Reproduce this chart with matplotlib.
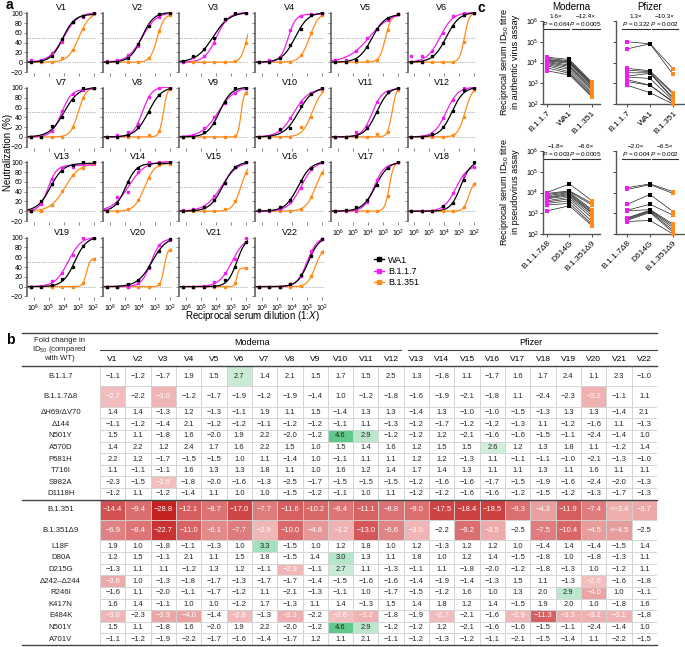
import numpy as np
import matplotlib
matplotlib.use("Agg")
import matplotlib.pyplot as plt
from matplotlib.patches import Rectangle
from matplotlib.colors import LinearSegmentedColormap
from matplotlib.lines import Line2D
from matplotlib.ticker import FixedLocator, NullLocator

plt.rcParams['font.family'] = ['Liberation Sans', 'DejaVu Sans']
plt.rcParams['mathtext.fontset'] = 'custom'
plt.rcParams['mathtext.rm'] = 'Liberation Sans'
plt.rcParams['mathtext.it'] = 'Liberation Sans:italic'
plt.rcParams['mathtext.bf'] = 'Liberation Sans:bold'
plt.rcParams['axes.linewidth'] = 0.8

W, H = 685, 647

C_WA1 = '#000000'
C_B117 = '#f01ef0'
C_B1351 = '#ff8c1a'

# ---------------- panel a: neutralization curves ----------------
DILUTIONS = [1562500, 312500, 62500, 12500, 2500, 500, 100]
VACCINEES = [f'V{i}' for i in range(1, 23)]

WA1_NEUT = [
    [0, 2, 12, 47, 82, 95, 100], [0, 0, 8, 38, 75, 98, 100], [2, 12, 28, 50, 88, 100, 100],
    [0, 0, 8, 36, 68, 96, 100], [0, 0, 5, 32, 67, 90, 98], [0, 1, 12, 39, 74, 97, 100],
    [0, 0, 22, 41, 75, 100, 100], [0, 0, 3, 20, 50, 86, 100], [0, 0, 11, 28, 72, 100, 100],
    [0, 0, 16, 18, 63, 87, 100], [0, 0, 2, 18, 50, 92, 100], [0, 0, 5, 20, 52, 96, 100],
    [0, 20, 55, 82, 95, 100, 100], [0, 17, 59, 88, 95, 98, 100], [0, 2, 9, 22, 57, 91, 100],
    [2, 2, 9, 22, 62, 88, 100], [0, 2, 8, 22, 54, 89, 100], [0, 0, 0, 10, 17, 64, 100],
    [0, 0, 3, 15, 40, 82, 100], [0, 0, 5, 13, 40, 72, 97], [0, 0, 0, 1, 13, 40, 92],
    [0, 0, 0, 5, 23, 62, 98],
]
B117_NEUT = [
    [4, 5, 18, 42, 83, 93, 100], [3, 5, 14, 33, 76, 93, 100], [0, 11, 13, 39, 86, 100, 100],
    [0, 4, 10, 65, 95, 99, 100], [5, 5, 22, 49, 67, 86, 98], [12, 12, 22, 59, 95, 100, 100],
    [0, 0, 12, 53, 88, 96, 99], [0, 4, 11, 27, 82, 100, 100], [0, 4, 18, 40, 69, 89, 100],
    [0, 0, 14, 38, 72, 89, 100], [0, 0, 10, 22, 72, 92, 100], [0, 0, 4, 38, 76, 99, 100],
    [0, 15, 66, 89, 91, 98, 100], [2, 30, 39, 81, 100, 100, 100], [2, 5, 8, 32, 58, 90, 100],
    [0, 0, 5, 18, 47, 87, 100], [0, 0, 0, 19, 64, 91, 100], [0, 0, 0, 8, 37, 74, 91],
    [0, 2, 12, 28, 64, 100, 100], [0, 0, 0, 8, 38, 85, 96], [0, 0, 2, 10, 28, 57, 100],
    [0, 0, 0, 5, 22, 72, 97],
]
B1351_NEUT = [
    [0, 0, 0, 8, 24, 68, 100], [0, 0, 0, 0, 8, 63, 97], [0, 0, 0, 0, 0, 2, 40],
    [0, 0, 0, 0, 15, 59, 97], [0, 0, 0, 3, 5, 65, 98], [0, 0, 0, 0, 0, 42, 100],
    [0, 0, 0, 0, 20, 79, 99], [0, 0, 0, 0, 3, 12, 98], [0, 0, 0, 0, 0, 2, 90],
    [0, 0, 0, 0, 20, 40, 96], [0, 0, 0, 0, 7, 11, 96], [0, 0, 0, 0, 4, 41, 95],
    [0, 0, 12, 41, 73, 88, 98], [0, 0, 5, 22, 67, 95, 97], [0, 0, 0, 0, 5, 20, 78],
    [0, 0, 0, 0, 5, 30, 78], [0, 0, 0, 0, 0, 32, 100], [0, 0, 0, 0, 0, 8, 55],
    [0, 0, 0, 0, 0, 8, 57], [0, 0, 0, 0, 0, 5, 75], [0, 0, 0, 0, 0, 8, 38],
    [0, 0, 0, 0, 2, 22, 70],
]

# ---------------- panel c: paired ID50 titres ----------------
MOD_AUTH_B117 = [1.8e4, 1.6e4, 1.4e4, 1.3e4, 1.2e4, 1.1e4, 1.0e4, 9e3, 8e3, 7e3, 5.5e3, 4e3]
MOD_AUTH_WA1 = [1.4e4, 1.2e4, 1.1e4, 1.0e4, 9e3, 7.5e3, 6.5e3, 5.5e3, 4.5e3, 3.5e3, 3e3, 2.5e3]
MOD_AUTH_B1351 = [1.1e3, 1.0e3, 9e2, 8e2, 7e2, 6e2, 5e2, 4.5e2, 3.5e2, 3e2, 2.5e2, 2.2e2]
PFZ_AUTH_B117 = [1.0e5, 4.5e4, 5.2e3, 4.3e3, 3.2e3, 2.2e3, 2e3, 1.5e3, 1.2e3, 8e2]
PFZ_AUTH_WA1 = [8e4, 8e4, 4e3, 3.6e3, 3.2e3, 3e3, 1.7e3, 8e2, 8e2, 3.5e2]
PFZ_AUTH_B1351 = [5e3, 2.7e3, 3.5e2, 3e2, 2e2, 1.8e2, 1.5e2, 1.3e2, 1.2e2, 1e2]
MOD_PSV_B117D8 = [1e4, 9e3, 8e3, 7e3, 6e3, 5.5e3, 5e3, 4e3, 3.5e3, 3e3, 2.5e3, 1.3e3]
MOD_PSV_D614G = [2.6e4, 1.2e4, 1.1e4, 1e4, 9e3, 8e3, 7e3, 6e3, 5e3, 4e3, 3e3, 2.3e3]
MOD_PSV_B1351D9 = [4e3, 3e3, 2.5e3, 1.5e3, 1.3e3, 1.1e3, 1e3, 8e2, 6e2, 4e2, 3e2, 2.5e2]
PFZ_PSV_B117D8 = [1.7e4, 1.4e4, 2.7e3, 1.4e3, 1.3e3, 6e2, 5.5e2, 5e2, 4.5e2, 4e2]
PFZ_PSV_D614G = [2.6e4, 2.4e4, 8e3, 2.7e3, 1.5e3, 1.4e3, 1.3e3, 1.2e3, 1.1e3, 4.5e2]
PFZ_PSV_B1351D9 = [1.1e4, 9e3, 1.2e3, 8e2, 3e2, 2.5e2, 2e2, 1.5e2, 1.2e2, 1e2]

AUTH_CATS = ['B.1.1.7', 'WA1', 'B.1.351']
PSV_CATS = ['B.1.1.7Δ8', 'D614G', 'B.1.351Δ9']
MOD_AUTH_STATS = [('1.6×', '0.064'), ('−12.4×', '0.0005')]
PFZ_AUTH_STATS = [('1.3×', '0.322'), ('−10.3×', '0.002')]
MOD_PSV_STATS = [('−1.8×', '0.003'), ('−8.6×', '0.0005')]
PFZ_PSV_STATS = [('−2.0×', '0.004'), ('−6.5×', '0.002')]

# ---------------- panel b: fold-change table ----------------
MUTATIONS = ['B.1.1.7', 'B.1.1.7Δ8', 'ΔH69/ΔV70', 'Δ144', 'N501Y', 'A570D', 'P681H',
             'T716I', 'S982A', 'D1118H', 'B.1.351', 'B.1.351Δ9', 'L18F', 'D80A', 'D215G',
             'Δ242–Δ244', 'R246I', 'K417N', 'E484K', 'N501Y', 'A701V']
FOLD = [
    [-1.1, -1.2, -1.7, 1.9, 1.5, 2.7, 1.4, 2.1, 1.5, 1.7, 1.5, 2.5, 1.3, -1.8, 1.1, -1.7, 1.6, 1.7, 2.4, 1.1, 2.3, -1.0],
    [-2.7, -2.2, -3.0, -1.2, -1.7, -1.9, -1.2, -1.9, -1.4, 1.0, -1.2, -1.8, -1.6, -1.9, -2.1, -1.8, 1.1, -2.4, -2.3, -3.2, -1.1, 1.1],
    [1.4, 1.4, -1.3, 1.2, -1.3, -1.1, 1.9, 1.1, 1.5, -1.4, 1.3, 1.3, -1.4, 1.3, -1.0, -1.0, -1.5, -1.3, 1.3, 1.3, -1.4, 2.1],
    [-1.1, -1.2, -1.4, 2.1, -1.2, -1.2, -1.1, -1.2, -1.2, -1.1, 1.1, -1.3, -1.2, -1.7, -1.2, -1.2, -1.3, 1.1, -1.2, -1.6, 1.1, -1.3],
    [1.5, 1.1, -1.8, 1.6, -2.0, 1.9, 2.2, -2.0, -1.2, 4.6, 2.9, -1.2, -1.2, 1.2, -2.1, -1.6, -1.6, -1.5, -1.1, -2.4, -1.4, 1.0],
    [1.4, 2.2, 1.2, 2.4, 1.7, 1.6, 2.2, 1.5, 1.0, 1.5, 1.4, 1.6, 1.2, 1.5, 1.5, 2.6, 1.2, 1.3, 1.8, 1.1, -1.2, 1.4],
    [2.2, 1.2, -1.7, -1.5, -1.5, 1.0, 1.1, -1.4, 1.0, -1.1, 1.1, 1.1, 1.2, 1.2, -1.3, 1.1, -1.1, -1.1, -1.0, -2.1, -1.3, -1.0],
    [1.1, -1.1, -1.1, 1.6, 1.3, 1.3, 1.8, 1.1, 1.0, 1.6, 1.2, 1.4, 1.7, 1.4, 1.3, 1.1, 1.1, 1.3, 1.1, 1.6, 1.1, 1.1],
    [-2.3, -1.5, -2.6, -1.8, -2.0, -1.6, -1.3, -2.5, -1.7, -1.5, -1.5, -1.5, -1.2, -1.6, -1.6, -1.7, -1.5, -1.9, -1.6, -2.4, -2.0, -1.3],
    [-1.2, 1.1, -1.2, -1.4, 1.1, 1.0, 1.0, -1.5, -1.2, -1.1, 1.0, 1.1, -1.2, -1.2, -1.6, -1.6, -1.2, -1.5, -1.2, -1.3, -1.7, -1.3],
    [-14.4, -9.4, -28.8, -12.1, -8.7, -17.0, -7.7, -11.6, -10.2, -8.4, -11.1, -8.8, -9.0, -17.5, -18.4, -18.5, -9.3, -4.3, -11.9, -7.4, -3.4, -3.7],
    [-6.9, -8.4, -22.7, -11.0, -6.1, -7.7, -2.9, -10.0, -4.8, -3.2, -13.0, -6.6, -3.0, -2.2, -9.2, -3.5, -2.5, -7.5, -10.4, -4.5, -4.5, -2.5],
    [1.9, 1.0, -1.8, -1.1, -1.3, 1.0, 3.3, -1.5, 1.0, 1.2, 1.8, 1.0, 1.2, -1.3, 1.2, 1.2, 1.0, -1.4, 1.4, -1.4, -1.5, 1.4],
    [1.2, 1.5, -1.1, 2.1, 1.1, 1.5, 1.8, -1.5, 1.4, 3.0, 1.3, 1.1, 1.8, 1.0, 1.2, 1.4, -1.5, -1.8, 1.0, -1.8, -1.3, 1.1],
    [-1.3, 1.1, 1.1, -1.2, 1.3, 1.2, -1.1, -2.9, -1.1, 2.7, 1.1, -1.3, -1.1, 1.1, -1.8, -2.0, -1.2, -1.8, -1.3, 1.0, -1.2, 1.1],
    [-3.6, 1.0, -1.3, -1.8, -1.7, -1.3, -1.7, -1.7, -1.4, -1.5, -1.6, -1.6, -1.4, -1.9, -1.4, -1.3, 1.5, 1.1, -1.3, -2.6, -1.6, -1.8],
    [-1.6, 1.1, -2.0, -1.1, -1.7, -1.2, 1.1, -2.1, -1.3, -1.1, 1.0, -1.7, -1.5, -1.2, 1.6, 1.0, 1.3, 2.0, 2.9, -4.0, 1.0, -1.1],
    [1.6, 1.4, -1.1, 1.0, 1.0, -1.2, 1.7, -1.3, 1.1, 1.4, -1.3, 1.5, 1.4, 1.8, 1.2, 1.4, -1.5, 1.9, 2.0, 1.0, -1.8, 1.6],
    [-3.0, -2.3, -3.9, -4.0, -1.4, -2.8, -1.3, -3.3, -2.2, -2.6, -3.2, -1.8, -1.9, -2.7, -2.1, -1.6, -2.9, -11.3, -3.3, -3.2, -3.1, -1.8],
    [1.5, 1.1, -1.8, 1.6, -2.0, 1.9, 2.2, -2.0, -1.2, 4.6, 2.9, -1.2, -1.2, 1.2, -2.1, -1.6, -1.6, -1.5, -1.1, -2.4, -1.4, 1.0],
    [-1.1, -1.2, -1.9, -2.2, -1.7, -1.6, -1.4, -1.7, 1.2, 1.1, 2.1, -1.1, -1.2, -1.3, -1.2, -1.1, -2.1, -1.5, -1.4, 1.1, -2.2, -1.5],
]
# values below the limit of detection, shown with "<"
CENSORED = [(10, 20), (11, 20)]
TALL_ROWS = [0, 1, 10, 11]


def px_rect(left, top, width, height):
    return [left / W, 1 - (top + height) / H, width / W, height / H]


LOG_ID50_GRID = np.arange(0.5, 7.5, 0.02)
SLOPE_GRID = np.arange(0.3, 6.0, 0.1)
TOP_GRID = np.arange(30, 103, 4)


def fit_logistic(logx, y):
    """Crude grid-search 3-parameter logistic fit."""
    c = LOG_ID50_GRID[:, None, None, None]
    h = SLOPE_GRID[None, :, None, None]
    t = TOP_GRID[None, None, :, None]
    pred = t / (1 + 10 ** (h * (logx[None, None, None, :] - c)))
    sse = ((pred - np.asarray(y)[None, None, None, :]) ** 2).sum(-1)
    i, j, k = np.unravel_index(sse.argmin(), sse.shape)
    return LOG_ID50_GRID[i], SLOPE_GRID[j], TOP_GRID[k]


fig = plt.figure(figsize=(W / 100, H / 100), dpi=100)

# ---------- panel a ----------
logd = np.log10(DILUTIONS)
fine = np.linspace(6.44, 1.84, 200)
col_left = [27 + 76.1 * i for i in range(6)]
row_top = [12.3, 87.0, 161.3, 236.7]

for idx, name in enumerate(VACCINEES):
    r, c = divmod(idx, 6)
    ax = fig.add_axes(px_rect(col_left[c], row_top[r], 69, 60.7))
    ax.set_xscale('log')
    for yy in (0, 50):
        ax.axhline(yy, color='#a8a8a8', lw=0.6, ls=(0, (1.5, 1.2)), zorder=0)
    for series, color in ((B1351_NEUT, C_B1351), (B117_NEUT, C_B117), (WA1_NEUT, C_WA1)):
        yv = series[idx]
        c50, slope, top = fit_logistic(logd, yv)
        curve = top / (1 + 10 ** (slope * (fine - c50)))
        ax.plot(10 ** fine, curve, color=color, lw=0.9, zorder=2)
        ax.plot(DILUTIONS, yv, 's', color=color, ms=1.8, zorder=3)
    ax.set_xlim(10 ** 6.44, 10 ** 1.84)
    ax.set_ylim(-22, 102)
    ax.spines[['top', 'right', 'bottom']].set_visible(False)
    ax.spines['left'].set_bounds(-20, 100)
    ax.spines['left'].set_color('#555555')
    ax.spines['left'].set_linewidth(1.1)
    ax.set_yticks([-20, 0, 20, 40, 60, 80, 100])
    ax.xaxis.set_major_locator(FixedLocator([1e6, 1e5, 1e4, 1e3, 1e2]))
    ax.xaxis.set_minor_locator(NullLocator())
    ax.tick_params(axis='both', length=2, width=0.5, labelsize=5, pad=1, color='#555555')
    ax.tick_params(axis='x', direction='out', pad=2)
    if c != 0:
        ax.set_yticklabels([])
    bottom_labels = idx >= 18 or idx in (16, 17)
    if bottom_labels:
        ax.set_xticklabels(['10$^{6}$', '10$^{5}$', '10$^{4}$', '10$^{3}$', '10$^{2}$'])
    else:
        ax.set_xticklabels([])
    ax.set_title(name, fontsize=6.5, pad=1.5)
    ax.patch.set_alpha(0)

fig.text(6 / W, 1 - 5 / H, 'a', fontsize=10, fontweight='bold', va='center')
fig.text(8 / W, 1 - 152 / H, 'Neutralization (%)', rotation=90, fontsize=7,
         ha='center', va='center')
fig.text(252 / W, 1 - 316 / H, 'Reciprocal serum dilution (1:$X$)', fontsize=7,
         ha='center', va='center')
handles = [Line2D([], [], color=col, marker='s', ms=2.3, lw=1) for col in (C_WA1, C_B117, C_B1351)]
fig.legend(handles, ['WA1', 'B.1.1.7', 'B.1.351'], loc='upper left',
           bbox_to_anchor=(370 / W, 1 - 252 / H), frameon=False, fontsize=6.5,
           handlelength=1.2, handletextpad=0.4, labelspacing=0.25, borderaxespad=0)


# ---------- panel c ----------
def paired_panel(rect, groups, cats, stats, xlim, brackets, show_ylabels):
    ax = fig.add_axes(px_rect(*rect))
    ax.set_yscale('log')
    x = np.arange(3)
    n = len(groups[0])
    for k in range(n):
        ax.plot(x, [g[k] for g in groups], color='#222222', lw=0.5, zorder=1)
    for i, col in enumerate((C_B117, C_WA1, C_B1351)):
        ax.scatter(np.full(n, i), groups[i], s=6, marker='s', color=col, zorder=3,
                   clip_on=False, linewidths=0)
    ax.set_ylim(1e2, 1e6)
    ax.set_xlim(*xlim)
    ax.set_yticks([1e2, 1e3, 1e4, 1e5, 1e6])
    ax.yaxis.set_minor_locator(NullLocator())
    ax.set_xticks(x)
    ax.set_xticklabels(cats, rotation=45, ha='right', rotation_mode='anchor', fontsize=6)
    ax.tick_params(axis='both', length=2, width=0.5, labelsize=5, pad=1)
    ax.tick_params(axis='x', labelsize=6, pad=2)
    if not show_ylabels:
        ax.set_yticklabels([])
    ax.spines[['top', 'right']].set_visible(False)
    ax.spines[['left', 'bottom']].set_color('#555555')
    ax.spines[['left', 'bottom']].set_linewidth(1.0)
    for (fold, p), (x0, x1) in zip(stats, brackets):
        ax.plot([x0, x1], [10 ** 5.62, 10 ** 5.62], color='#333333', lw=0.8, clip_on=False)
        xm = (x0 + x1) / 2
        ax.text(xm, 10 ** 5.85, f'$P$ = {p}', fontsize=4.6, ha='center', va='center', clip_on=False)
        ax.text(xm, 10 ** 6.2, fold, fontsize=4.6, ha='center', va='center', clip_on=False)
    return ax


MOD_XLIM = (-0.18, 2.36)
PFZ_XLIM = (-0.48, 2.52)
MOD_BRACKETS = ((-0.18, 1.0), (1.1, 2.36))
PFZ_BRACKETS = ((-0.2, 1.0), (1.1, 2.2))

paired_panel((543, 21, 57, 83), (MOD_AUTH_B117, MOD_AUTH_WA1, MOD_AUTH_B1351),
             AUTH_CATS, MOD_AUTH_STATS, MOD_XLIM, MOD_BRACKETS, True)
paired_panel((616, 21, 69, 83), (PFZ_AUTH_B117, PFZ_AUTH_WA1, PFZ_AUTH_B1351),
             AUTH_CATS, PFZ_AUTH_STATS, PFZ_XLIM, PFZ_BRACKETS, False)
paired_panel((543, 151, 57, 83), (MOD_PSV_B117D8, MOD_PSV_D614G, MOD_PSV_B1351D9),
             PSV_CATS, MOD_PSV_STATS, MOD_XLIM, MOD_BRACKETS, True)
paired_panel((616, 151, 69, 83), (PFZ_PSV_B117D8, PFZ_PSV_D614G, PFZ_PSV_B1351D9),
             PSV_CATS, PFZ_PSV_STATS, PFZ_XLIM, PFZ_BRACKETS, False)

fig.text(477 / W, 1 - 8 / H, 'c', fontsize=10, fontweight='bold', va='center')
fig.text(571 / W, 1 - 7 / H, 'Moderna', fontsize=7, ha='center', va='center')
fig.text(650 / W, 1 - 7 / H, 'Pfizer', fontsize=7, ha='center', va='center')
fig.text(509 / W, 1 - 62 / H, 'Reciprocal serum ID$_{50}$ titre\nin authentic virus assay',
         rotation=90, fontsize=6.5, ha='center', va='center', linespacing=1.1)
fig.text(509 / W, 1 - 192 / H, 'Reciprocal serum ID$_{50}$ titre\nin pseudovirus assay',
         rotation=90, fontsize=6.5, ha='center', va='center', linespacing=1.1)

# ---------- panel b ----------
reds = LinearSegmentedColormap.from_list('reds', ['#f3c0c0', '#e48e8f', '#d45758', '#c4201f'])
greens = LinearSegmentedColormap.from_list('greens', ['#d6f1e0', '#96dcb3', '#4fc27f'])

tab = fig.add_axes(px_rect(22, 333, 635, 312))
tab.set_xlim(-3.08, 22)
header_h = 2.84
tab.set_ylim(24, -header_h)
tab.axis('off')

heights = [1.75 if i in TALL_ROWS else 1.0 for i in range(len(MUTATIONS))]
y0 = 0.0
for i, (label, vals, hgt) in enumerate(zip(MUTATIONS, FOLD, heights)):
    tab.text(-1.55, y0 + hgt / 2, label, fontsize=5.6, ha='center', va='center', color='#222222')
    for j, v in enumerate(vals):
        txt_col = '#222222'
        face = 'white'
        if v < -2.5:
            t = np.clip(np.log(-v / 2.5) / np.log(30 / 2.5), 0, 1)
            face = reds(t)
            txt_col = 'white'
        elif v > 2.5:
            t = np.clip(np.log(v / 2.5) / np.log(5 / 2.5), 0, 1)
            face = greens(t)
        tab.add_patch(Rectangle((j, y0), 1, hgt, facecolor=face, edgecolor='#d2d2d2', lw=0.6))
        s = f'{abs(v):.1f}'
        s = ('−' + s) if v < 0 else s
        if (i, j) in CENSORED:
            s = '<' + s
        tab.text(j + 0.5, y0 + hgt / 2, s, fontsize=5.4, ha='center', va='center', color=txt_col)
    y0 += hgt
    if i == 9:
        tab.plot([-3.08, 22], [y0, y0], color='#444444', lw=1.0, clip_on=False)

end_y = sum(heights)
tab.plot([-3.08, 22], [end_y, end_y], color='#444444', lw=1.0, clip_on=False)
tab.plot([-3.08, 22], [0, 0], color='#444444', lw=1.0, clip_on=False)
tab.plot([-3.08, 22], [-header_h, -header_h], color='#444444', lw=1.0, clip_on=False)
tab.plot([0, 11.9], [-1.38, -1.38], color='#444444', lw=0.8, clip_on=False)
tab.plot([12.15, 22], [-1.38, -1.38], color='#444444', lw=0.8, clip_on=False)
tab.text(6, -2.06, 'Moderna', fontsize=6.5, ha='center', va='center')
tab.text(17, -2.06, 'Pfizer', fontsize=6.5, ha='center', va='center')
for j, name in enumerate(VACCINEES):
    tab.text(j + 0.5, -0.6, name, fontsize=6, ha='center', va='center')
tab.text(-1.6, -1.45, 'Fold change in\nID$_{50}$ (compared\nwith WT)', fontsize=5.6,
         ha='center', va='center', linespacing=1.0, color='#222222')

fig.text(6 / W, 1 - 340 / H, 'b', fontsize=10, fontweight='bold', va='center')

fig.savefig('out.png', dpi=100)
